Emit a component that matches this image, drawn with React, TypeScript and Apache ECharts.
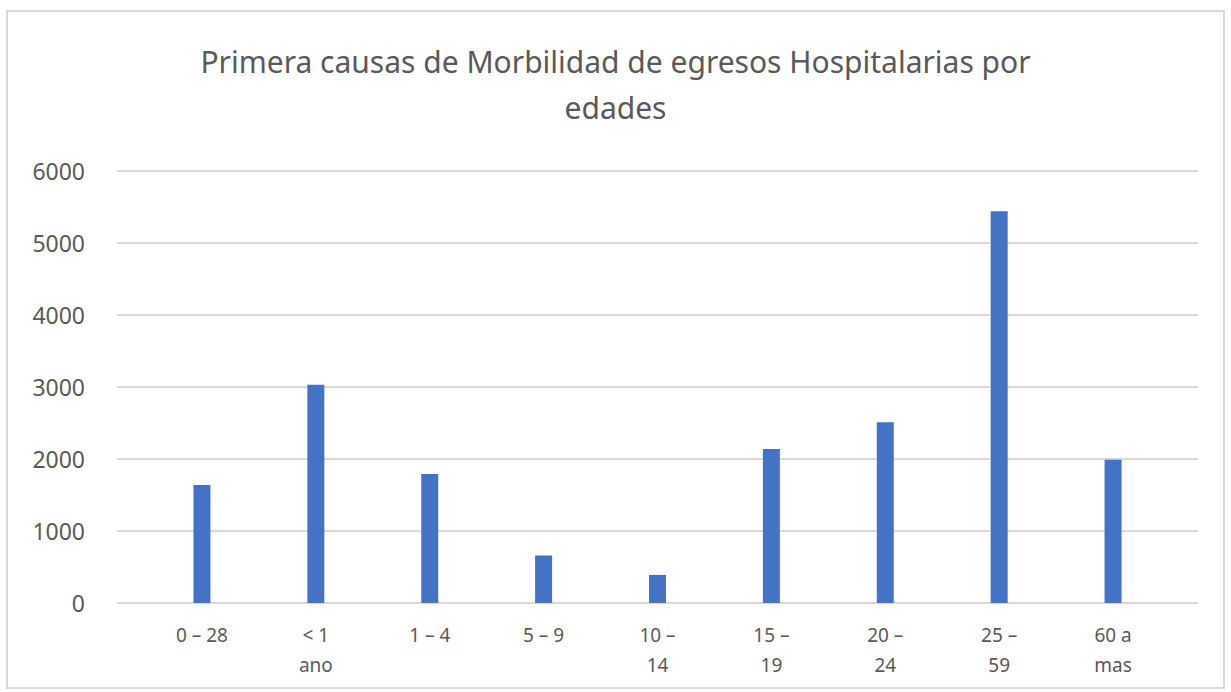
import React, { useEffect, useRef } from "react";
import * as echarts from "echarts";

const titleText = "Primera causas de Morbilidad de egresos Hospitalarias por\nedades";
const categories = ["0 – 28", "< 1\nano", "1 – 4", "5 – 9", "10 –\n14", "15 –\n19", "20 –\n24", "25 –\n59", "60 a\nmas"];
const values = [1640, 3030, 1790, 660, 390, 2140, 2510, 5440, 1990];
const yMin = 0;
const yMax = 6000;
const yInterval = 1000;

const TEXT = "#595959";
const GRID = "#d9d9d9";
const BAR = "#4472C4";
const FONT = "'Noto Sans', 'Open Sans', sans-serif";

export default function App() {
  const ref = useRef<HTMLDivElement>(null);
  useEffect(() => {
    if (!ref.current) return;
    const chart = echarts.init(ref.current, null, { renderer: "svg" });
    chart.setOption({
      animation: false,
      backgroundColor: "#ffffff",
      title: {
        text: titleText,
        left: "center",
        top: 38,
        padding: 0,
        textStyle: {
          fontFamily: FONT,
          fontSize: 30,
          fontWeight: "normal",
          color: TEXT,
          lineHeight: 46,
        },
      },
      graphic: [
        {
          type: "rect",
          shape: { x: 7, y: 11, width: 1217, height: 677 },
          style: { fill: "none", stroke: GRID, lineWidth: 2 },
          silent: true,
        },
      ],
      grid: [
        { left: 117, right: 33, top: 171, bottom: 89 },
        { left: 145, right: 61, top: 171, bottom: 89 },
      ],
      xAxis: [
        {
          type: "value",
          gridIndex: 0,
          min: 0,
          max: 1,
          axisLine: { show: false },
          axisTick: { show: false },
          axisLabel: { show: false },
          splitLine: { show: false },
        },
        {
          type: "category",
          gridIndex: 1,
          data: categories,
          axisLine: { show: false },
          axisTick: { show: false },
          axisLabel: {
            interval: 0,
            margin: 17,
            fontFamily: FONT,
            fontSize: 19,
            lineHeight: 30,
            color: TEXT,
          },
        },
      ],
      yAxis: [
        {
          type: "value",
          gridIndex: 0,
          min: yMin,
          max: yMax,
          interval: yInterval,
          axisLine: { show: false },
          axisTick: { show: false },
          axisLabel: {
            margin: 32,
            fontFamily: FONT,
            fontSize: 23,
            color: TEXT,
            formatter: (v: number) => String(v),
          },
          splitLine: { lineStyle: { color: GRID, width: 2 } },
        },
        {
          type: "value",
          gridIndex: 1,
          min: yMin,
          max: yMax,
          interval: yInterval,
          show: false,
          splitLine: { show: false },
        },
      ],
      series: [
        {
          type: "bar",
          xAxisIndex: 1,
          yAxisIndex: 1,
          data: values,
          barWidth: 17,
          itemStyle: { color: BAR },
        },
      ],
    });
    return () => chart.dispose();
  }, []);
  return (
    <div
      ref={ref}
      style={{ position: "fixed", left: 0, top: 0, width: 1231, height: 692 }}
    />
  );
}
